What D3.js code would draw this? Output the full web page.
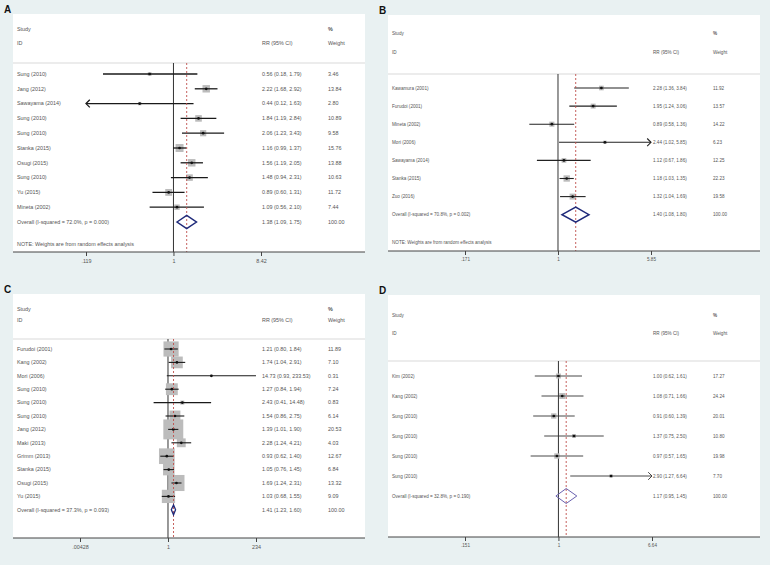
<!DOCTYPE html>
<html>
<head>
<meta charset="utf-8">
<script src="https://cdn.jsdelivr.net/npm/d3@7"></script>
<style>
  body { margin: 0; background: #e9f1f2; }
  svg { display: block; font-family: Arial, "Liberation Sans", sans-serif; }
</style>
</head>
<body>
<svg id="chart" width="770" height="565"></svg>
<script>
// Panel A
var studiesA = ['Sung (2010)', 'Jang (2012)', 'Sawayama (2014)', 'Sung (2010)', 'Sung (2010)',
                'Stanka (2015)', 'Osugi (2015)', 'Sung (2010)', 'Yu (2015)', 'Mineta (2002)'];
var rrA = [0.56, 2.22, 0.44, 1.84, 2.06, 1.16, 1.56, 1.48, 0.89, 1.09];
var loA = [0.18, 1.68, 0.12, 1.19, 1.23, 0.99, 1.19, 0.94, 0.60, 0.56];
var hiA = [1.79, 2.92, 1.63, 2.84, 3.43, 1.37, 2.05, 2.31, 1.31, 2.10];
var weightA = [3.46, 13.84, 2.80, 10.89, 9.58, 15.76, 13.88, 10.63, 11.72, 7.44];
var arrowA = ['', '', 'left', '', '', '', '', '', '', ''];
var overallA = [1.38, 1.09, 1.75];
var hetA = 'Overall  (I-squared = 72.0%, p = 0.000)';
var ticksA = ['.119', '1', '8.42'];

// Panel B
var studiesB = ['Kawamura (2001)', 'Furudoi (2001)', 'Mineta (2002)', 'Mori (2006)',
                'Sawayama (2014)', 'Stanka (2015)', 'Zuo (2016)'];
var rrB = [2.28, 1.95, 0.89, 2.44, 1.12, 1.18, 1.32];
var loB = [1.36, 1.24, 0.58, 1.02, 0.67, 1.03, 1.04];
var hiB = [3.84, 3.06, 1.36, 5.85, 1.86, 1.35, 1.69];
var weightB = [11.92, 13.57, 14.22, 6.23, 12.25, 22.23, 19.58];
var arrowB = ['', '', '', 'right', '', '', ''];
var overallB = [1.40, 1.08, 1.80];
var hetB = 'Overall  (I-squared = 70.8%, p = 0.002)';
var ticksB = ['.171', '1', '5.85'];

// Panel C
var studiesC = ['Furudoi (2001)', 'Kang (2002)', 'Mori (2006)', 'Sung (2010)', 'Sung (2010)',
                'Sung (2010)', 'Jang (2012)', 'Maki (2013)', 'Grimm (2013)', 'Stanka (2015)',
                'Osugi (2015)', 'Yu (2015)'];
var rrC = [1.21, 1.74, 14.73, 1.27, 2.43, 1.54, 1.39, 2.28, 0.93, 1.05, 1.69, 1.03];
var loC = [0.80, 1.04, 0.93, 0.84, 0.41, 0.86, 1.01, 1.24, 0.62, 0.76, 1.24, 0.68];
var hiC = [1.84, 2.91, 233.53, 1.94, 14.48, 2.75, 1.90, 4.21, 1.40, 1.45, 2.31, 1.55];
var weightC = [11.89, 7.10, 0.31, 7.24, 0.83, 6.14, 20.53, 4.03, 12.67, 6.84, 13.32, 9.09];
var arrowC = ['', '', '', '', '', '', '', '', '', '', '', ''];
var overallC = [1.41, 1.23, 1.60];
var hetC = 'Overall  (I-squared = 37.3%, p = 0.093)';
var ticksC = ['.00428', '1', '234'];

// Panel D
var studiesD = ['Kim (2002)', 'Kang (2002)', 'Sung (2010)', 'Sung (2010)', 'Sung (2010)', 'Sung (2010)'];
var rrD = [1.00, 1.08, 0.91, 1.37, 0.97, 2.90];
var loD = [0.62, 0.71, 0.60, 0.75, 0.57, 1.27];
var hiD = [1.61, 1.66, 1.39, 2.50, 1.65, 6.64];
var weightD = [17.27, 24.24, 20.01, 10.80, 19.98, 7.70];
var arrowD = ['', '', '', '', '', 'right'];
var overallD = [1.17, 0.95, 1.45];
var hetD = 'Overall  (I-squared = 32.8%, p = 0.190)';
var ticksD = ['.151', '1', '6.64'];

var noteText = 'NOTE: Weights are from random effects analysis';

function forest_plot(svg, o) {
  var g = svg.append('g')
      .attr('transform', 'translate(' + o.left + ',' + o.top + ')');

  var n = o.studies.length;
  var tickVals = o.ticks.map(function(t) { return +t; });

  var x = d3.scaleLog()
      .domain([tickVals[0], tickVals[2]])
      .range(o.xRange);
  var y = d3.scaleLinear()
      .domain([0, n])
      .range([o.row0, o.row0 + n * o.step]);
  var side = d3.scaleSqrt()
      .domain([0, 100])
      .range([0, o.boxK * 10]);

  var txt = '#555';

  g.append('rect')
      .attr('width', o.width)
      .attr('height', o.height)
      .attr('fill', '#fff');

  // header
  function label(xp, yp, s, fill) {
    return g.append('text')
        .attr('x', xp).attr('y', yp).attr('dy', '0.35em')
        .attr('font-size', o.font)
        .attr('fill', fill || txt)
        .text(s);
  }
  label(o.textX, o.headY[0], 'Study');
  label(o.textX, o.headY[1], 'ID');
  label(o.rrX, o.headY[1], 'RR (95% CI)');
  label(o.wX, o.headY[0], '%').attr('font-weight', 'bold');
  label(o.wX, o.headY[1], 'Weight');

  g.append('line')
      .attr('x1', 0).attr('x2', o.width)
      .attr('y1', o.sepY).attr('y2', o.sepY)
      .attr('stroke', '#d9d9d9').attr('stroke-width', 1.2);

  // reference lines
  g.append('line')
      .attr('x1', x(1)).attr('x2', x(1))
      .attr('y1', o.sepY).attr('y2', o.height)
      .attr('stroke', '#333').attr('stroke-width', 1);

  var data = o.studies.map(function(s, i) {
    return { name: s, rr: o.rr[i], lo: o.lo[i], hi: o.hi[i], w: o.weight[i], arrow: o.arrow[i], i: i };
  });

  var rows = g.append('g').selectAll('g')
      .data(data)
      .enter().append('g');

  rows.append('rect')
      .attr('x', function(d) { return x(d.rr) - side(d.w) / 2; })
      .attr('y', function(d) { return y(d.i) - side(d.w) / 2; })
      .attr('width', function(d) { return side(d.w); })
      .attr('height', function(d) { return side(d.w); })
      .attr('fill', '#bcbcbc');

  g.append('line')
      .attr('x1', x(o.overall[0])).attr('x2', x(o.overall[0]))
      .attr('y1', o.sepY).attr('y2', o.height)
      .attr('stroke', '#c0504d').attr('stroke-width', 0.9)
      .attr('stroke-dasharray', '2,2');

  var xmin = o.xRange[0], xmax = o.xRange[1];
  function clip(v) { return Math.max(xmin, Math.min(xmax, x(v))); }

  rows.append('line')
      .attr('x1', function(d) { return clip(d.lo); })
      .attr('x2', function(d) { return clip(d.hi); })
      .attr('y1', function(d) { return y(d.i); })
      .attr('y2', function(d) { return y(d.i); })
      .attr('stroke', o.lineColor).attr('stroke-width', o.lineW);

  rows.filter(function(d) { return d.arrow; })
    .append('path')
      .attr('d', function(d) {
        var yy = y(d.i), a = 3.8;
        if(d.arrow === 'left') {
          return 'M' + (xmin + a) + ',' + (yy - a) + 'L' + xmin + ',' + yy + 'L' + (xmin + a) + ',' + (yy + a);
        }
        return 'M' + (xmax - a) + ',' + (yy - a) + 'L' + xmax + ',' + yy + 'L' + (xmax - a) + ',' + (yy + a);
      })
      .attr('fill', 'none')
      .attr('stroke', o.lineColor).attr('stroke-width', o.lineW);

  rows.append('circle')
      .attr('cx', function(d) { return x(d.rr); })
      .attr('cy', function(d) { return y(d.i); })
      .attr('r', 1.35)
      .attr('fill', '#111');

  rows.append('text')
      .attr('x', o.textX).attr('y', function(d) { return y(d.i); })
      .attr('dy', '0.35em').attr('font-size', o.font).attr('fill', txt)
      .text(function(d) { return d.name; });
  rows.append('text')
      .attr('x', o.rrX).attr('y', function(d) { return y(d.i); })
      .attr('dy', '0.35em').attr('font-size', o.font).attr('fill', txt)
      .text(function(d) {
        return d.rr.toFixed(2) + ' (' + d.lo.toFixed(2) + ', ' + d.hi.toFixed(2) + ')';
      });
  rows.append('text')
      .attr('x', o.wX).attr('y', function(d) { return y(d.i); })
      .attr('dy', '0.35em').attr('font-size', o.font).attr('fill', txt)
      .text(function(d) { return d.w.toFixed(2); });

  // overall
  var oy = y(n), ov = o.overall;
  g.append('path')
      .attr('d', 'M' + x(ov[1]) + ',' + oy + 'L' + x(ov[0]) + ',' + (oy - o.diaH) +
                 'L' + x(ov[2]) + ',' + oy + 'L' + x(ov[0]) + ',' + (oy + o.diaH) + 'Z')
      .attr('fill', 'none')
      .attr('stroke', o.diaColor).attr('stroke-width', o.diaW);

  label(o.textX, oy, o.het);
  label(o.rrX, oy, ov[0].toFixed(2) + ' (' + ov[1].toFixed(2) + ', ' + ov[2].toFixed(2) + ')');
  label(o.wX, oy, '100.00');

  if(o.noteY) {
    label(o.textX, o.noteY, noteText);
  }

  // axis along the bottom of the box
  var axisG = g.append('g')
      .attr('transform', 'translate(0,' + o.height + ')')
      .call(d3.axisBottom(x)
        .tickValues(tickVals)
        .tickFormat(function(d, i) { return o.ticks[i]; })
        .tickSize(4)
        .tickPadding(3));
  axisG.select('.domain')
      .attr('d', 'M0,0H' + o.width)
      .attr('stroke', '#444');
  axisG.selectAll('.tick line').attr('stroke', '#444');
  axisG.selectAll('.tick text')
      .attr('font-size', o.font)
      .attr('font-family', 'Arial, "Liberation Sans", sans-serif')
      .attr('fill', txt);

  svg.append('text')
      .attr('x', o.left - 9).attr('y', o.top - 1)
      .attr('font-size', 10).attr('font-weight', 'bold')
      .attr('fill', '#111')
      .text(o.name);
}

var svg = d3.select('#chart');

forest_plot(svg, {
  name: 'A', left: 13, top: 14, width: 352, height: 238,
  studies: studiesA, rr: rrA, lo: loA, hi: hiA, weight: weightA, arrow: arrowA,
  overall: overallA, het: hetA, ticks: ticksA,
  xRange: [73, 248], row0: 60, step: 14.8, headY: [15, 29], sepY: 49, noteY: 230,
  textX: 4, rrX: 249, wX: 315, font: 5.4, boxK: 2.0, diaH: 6.5,
  lineColor: '#1a1a1a', lineW: 1.3, diaColor: '#1f2a7a', diaW: 1.5
});

forest_plot(svg, {
  name: 'B', left: 388, top: 15, width: 372, height: 236,
  studies: studiesB, rr: rrB, lo: loB, hi: hiB, weight: weightB, arrow: arrowB,
  overall: overallB, het: hetB, ticks: ticksB,
  xRange: [77, 263], row0: 73, step: 18.1, headY: [18, 37], sepY: 59, noteY: 227,
  textX: 4, rrX: 265, wX: 325, font: 4.6, boxK: 1.35, diaH: 7.5,
  lineColor: '#222', lineW: 1.1, diaColor: '#1f2a7a', diaW: 1.5
});

forest_plot(svg, {
  name: 'C', left: 13, top: 294, width: 352, height: 244,
  studies: studiesC, rr: rrC, lo: loC, hi: hiC, weight: weightC, arrow: arrowC,
  overall: overallC, het: hetC, ticks: ticksC,
  xRange: [67, 243], row0: 55, step: 13.4, headY: [15, 26], sepY: 45, noteY: null,
  textX: 4, rrX: 249, wX: 315, font: 5.4, boxK: 4.4, diaH: 5,
  lineColor: '#1a1a1a', lineW: 1.1, diaColor: '#1f2a7a', diaW: 1.3
});

forest_plot(svg, {
  name: 'D', left: 388, top: 295, width: 372, height: 242,
  studies: studiesD, rr: rrD, lo: loD, hi: hiD, weight: weightD, arrow: arrowD,
  overall: overallD, het: hetD, ticks: ticksD,
  xRange: [77, 264], row0: 81, step: 20, headY: [20, 38], sepY: 66, noteY: null,
  textX: 4, rrX: 265, wX: 325, font: 4.6, boxK: 1.2, diaH: 7.5,
  lineColor: '#333', lineW: 0.9, diaColor: '#6a62b0', diaW: 1
});
</script>
</body>
</html>
